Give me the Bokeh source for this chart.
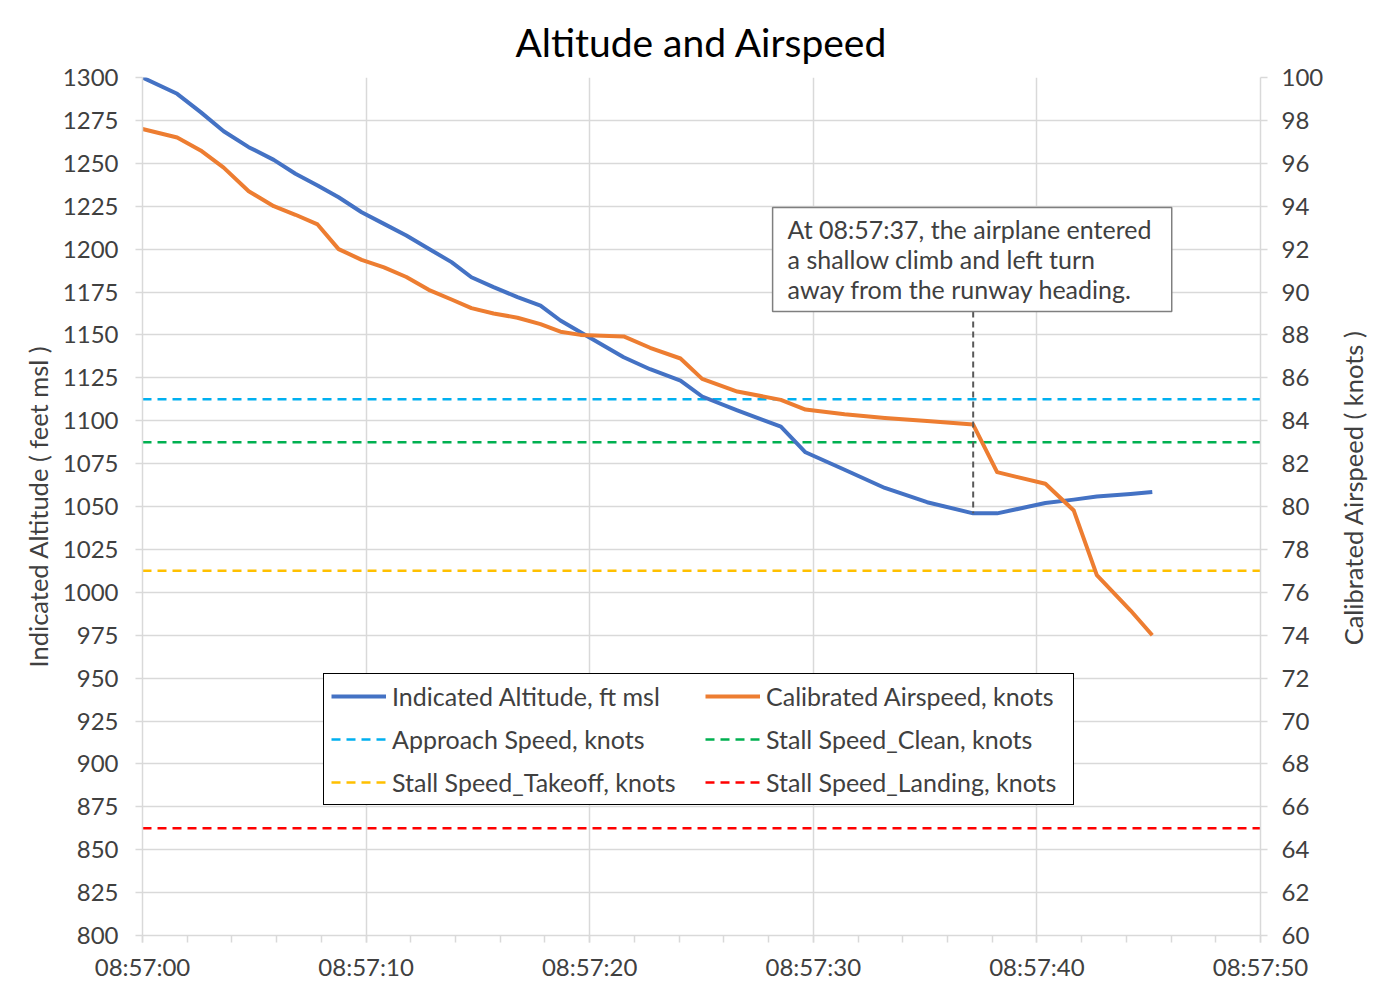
import math
from bokeh.plotting import figure
from bokeh.layouts import row
from bokeh.models import (Range1d, LinearAxis, FixedTicker, Legend, LegendItem,
                          BoxAnnotation, Label)
from bokeh.embed import file_html
from bokeh.resources import INLINE

# ---- data (seconds after 08:57:00) ----
seconds = [0.0, 1.55, 2.6, 3.63, 4.75, 5.87, 6.84, 7.83, 8.77, 9.8,
           10.8, 11.8, 12.8, 13.82, 14.71, 15.7, 16.77, 17.8, 18.69, 19.59,
           21.52, 22.7, 24.06, 25.03, 26.6, 28.55, 29.65, 31.4, 33.2, 35.09,
           37.15, 38.22, 40.38, 41.65, 42.68, 44.19, 45.16]
altitude_ft = [1300, 1290.5, 1279.8, 1268.7, 1259.4, 1252.0, 1243.9, 1237.1, 1230.2, 1221.5,
               1214.7, 1207.9, 1200.2, 1192.4, 1183.6, 1177.8, 1172.0, 1167.1, 1158.4, 1151.6,
               1137.0, 1130.0, 1123.4, 1114.1, 1106.0, 1096.5, 1081.6, 1071.4, 1060.8, 1052.5,
               1046, 1046, 1052, 1054, 1055.8, 1057.3, 1058.5]
airspeed_kt = [97.6, 97.2, 96.6, 95.8, 94.7, 94.0, 93.6, 93.15, 92.0, 91.5,
               91.15, 90.7, 90.1, 89.65, 89.25, 89.0, 88.8, 88.5, 88.15, 88.0,
               87.93, 87.4, 86.9, 85.95, 85.36, 84.97, 84.52, 84.3, 84.13, 83.99,
               83.82, 81.6, 81.06, 79.81, 76.8, 75.15, 74.0]

speed_names = ["Approach Speed, knots", "Stall Speed_Clean, knots",
               "Stall Speed_Takeoff, knots", "Stall Speed_Landing, knots"]
speed_values = [85, 83, 77, 65]
speed_colors = ["#00B0F0", "#00B050", "#FFC000", "#FF0000"]

x_tick_values = [0, 10, 20, 30, 40, 50]
x_tick_labels = ["08:57:00", "08:57:10", "08:57:20", "08:57:30", "08:57:40", "08:57:50"]
x_minor_ticks = list(range(0, 51, 2))
alt_ticks = list(range(800, 1301, 25))
cas_ticks = list(range(60, 101, 2))

annotation_second = 37.15
annotation_lines = ["At 08:57:37, the airplane entered",
                    "a shallow climb and left turn",
                    "away from the runway heading."]

FONT = "Lato"
TXT = "#404040"
GRID = "#D9D9D9"
FS = "24px"
AXIS_FS = "25.5px"

p = figure(frame_width=1118, frame_height=858,
           x_range=Range1d(0, 50), y_range=Range1d(800, 1300),
           output_backend="svg", toolbar_location=None,
           min_border_left=142, min_border_right=66,
           min_border_top=77, min_border_bottom=56,
           title="Altitude and Airspeed")
p.outline_line_color = None
p.background_fill_color = "white"
p.border_fill_color = "white"

p.title.align = "center"
p.title.text_font = FONT
p.title.text_font_size = "39px"
p.title.text_font_style = "normal"
p.title.text_color = "black"
p.title.standoff = 25

p.extra_y_ranges = {"cas": Range1d(60, 100)}
right_axis = LinearAxis(y_range_name="cas")
p.add_layout(right_axis, "right")

p.xaxis.ticker = FixedTicker(ticks=x_tick_values, minor_ticks=x_minor_ticks)
p.xaxis.major_label_overrides = {v: s for v, s in zip(x_tick_values, x_tick_labels)}
p.yaxis[0].ticker = FixedTicker(ticks=alt_ticks)
right_axis.ticker = FixedTicker(ticks=cas_ticks)

for ax in [p.xaxis[0], p.yaxis[0], right_axis]:
    ax.axis_line_color = GRID
    ax.axis_line_width = 1.5
    ax.major_tick_line_color = GRID
    ax.major_tick_line_width = 1.5
    ax.major_tick_out = 7
    ax.major_tick_in = 0
    ax.minor_tick_line_color = None
    ax.major_label_text_font = FONT
    ax.major_label_text_font_size = FS
    ax.major_label_text_color = TXT
    ax.axis_label_text_font = FONT
    ax.axis_label_text_font_size = AXIS_FS
    ax.axis_label_text_font_style = "normal"
    ax.axis_label_text_color = TXT

p.xaxis.minor_tick_line_color = GRID
p.xaxis.minor_tick_line_width = 1.5
p.xaxis.minor_tick_out = 7
p.xaxis.minor_tick_in = 0
p.xaxis.major_label_standoff = 9

p.yaxis[0].major_label_standoff = 17
right_axis.major_label_standoff = 14
p.yaxis[0].axis_label = "Indicated Altitude ( feet msl )"
p.yaxis[0].axis_label_standoff = 7

p.xgrid.grid_line_color = GRID
p.ygrid.grid_line_color = GRID
p.xgrid.grid_line_width = 1.5
p.ygrid.grid_line_width = 1.5

# reference speed lines
speed_renderers = []
for name, val, col in zip(speed_names, speed_values, speed_colors):
    r = p.line([0, 50], [val, val], y_range_name="cas", line_color=col,
               line_width=2.5, line_dash="9 6")
    speed_renderers.append(r)

# main series
alt_r = p.line(seconds, altitude_ft, line_color="#4472C4", line_width=4, line_join="round")
cas_r = p.line(seconds, airspeed_kt, y_range_name="cas", line_color="#ED7D31",
               line_width=4, line_join="round")

# annotation
idx = seconds.index(annotation_second)
box_bottom_ft = 1163.6
box_top_ft = 1224.2
p.segment(x0=[annotation_second], y0=[box_bottom_ft], x1=[annotation_second],
          y1=[altitude_ft[idx]], line_color="#595959", line_width=2, line_dash="6 4")
p.add_layout(BoxAnnotation(left=28.18, right=46.03, bottom=box_bottom_ft, top=box_top_ft,
                           fill_color="white", fill_alpha=1,
                           line_color="#7F7F7F", line_width=1.5, line_alpha=1))
for i, line in enumerate(annotation_lines):
    p.add_layout(Label(x=28.85, y=1212.0 - i * 17.5, text=line,
                       text_font=FONT, text_font_size="25px", text_color=TXT,
                       text_baseline="middle", text_align="left"))

legend = Legend(items=[
    LegendItem(label="Indicated Altitude, ft msl", renderers=[alt_r]),
    LegendItem(label=speed_names[0], renderers=[speed_renderers[0]]),
    LegendItem(label=speed_names[2], renderers=[speed_renderers[2]]),
    LegendItem(label="Calibrated Airspeed, knots", renderers=[cas_r]),
    LegendItem(label=speed_names[1], renderers=[speed_renderers[1]]),
    LegendItem(label=speed_names[3], renderers=[speed_renderers[3]]),
], location=(181, 130), ncols=2)
legend.border_line_color = "black"
legend.border_line_width = 1.5
legend.border_line_alpha = 1
legend.background_fill_color = "white"
legend.background_fill_alpha = 1
legend.label_text_font = FONT
legend.label_text_font_size = "25px"
legend.label_text_color = TXT
legend.glyph_width = 55
legend.glyph_height = 20
legend.label_standoff = 6
legend.label_width = 300
legend.spacing = 13
legend.padding = 7
legend.margin = 0
p.add_layout(legend, "center")

# narrow strip on the right holding the right-axis title (reads bottom-to-top)
side = figure(width=56, height=991, x_range=Range1d(0, 56), y_range=Range1d(991, 0),
              output_backend="svg", toolbar_location=None,
              x_axis_location=None, y_axis_location=None, min_border=0)
side.outline_line_color = None
side.grid.visible = False
side.border_fill_color = "white"
side.background_fill_color = "white"
side.add_layout(Label(x=26, y=474, text="Calibrated Airspeed ( knots )", angle=math.pi / 2,
                      text_font=FONT, text_font_size=AXIS_FS, text_color=TXT,
                      text_align="center", text_baseline="middle"))

layout = row(p, side, spacing=0)
open("out.html", "w").write(file_html(layout, INLINE))
